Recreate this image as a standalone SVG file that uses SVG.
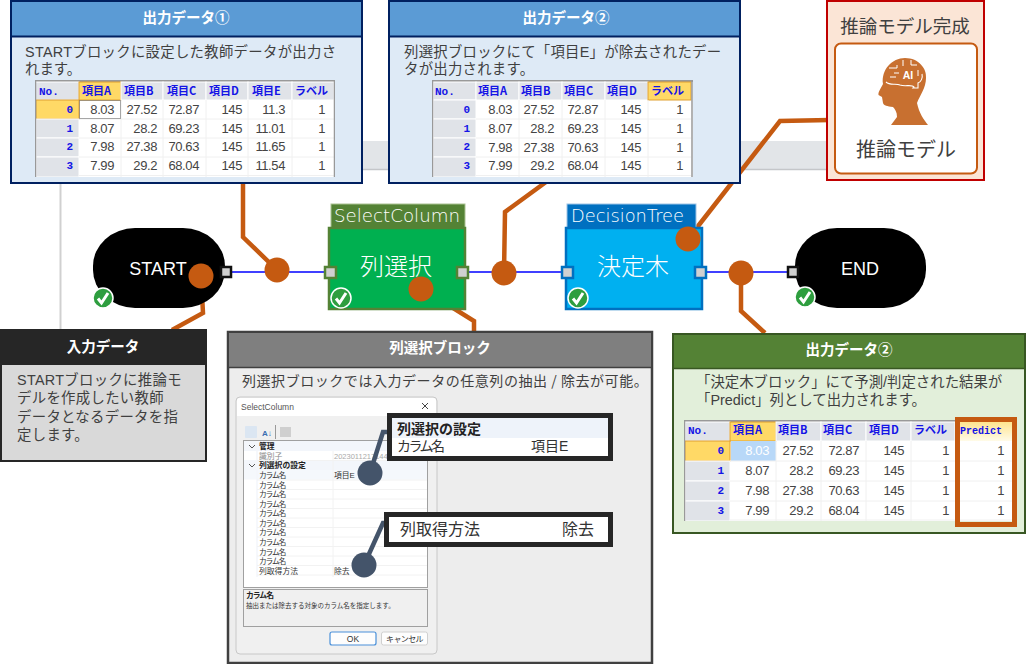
<svg xmlns="http://www.w3.org/2000/svg" width="1026" height="664" viewBox="0 0 1026 664">
<style>
text{font-family:"Noto Sans CJK JP","Liberation Sans",sans-serif}
.title{font-size:14.500px;font-weight:700;fill:#fff;text-anchor:middle}
.desc{font-size:14.400px;fill:#404040;font-family:"Liberation Sans","Noto Sans CJK JP",sans-serif}
.hb{font-size:11px;font-weight:700;fill:#1414e6}
.no{font-size:11px;font-weight:700;fill:#1414e6;font-family:"Liberation Mono",monospace}
.idx{font-size:11px;font-weight:700;fill:#1414e6;text-anchor:end;font-family:"Liberation Mono",monospace}
.n{font-size:13px;fill:#444;text-anchor:end;font-family:"Liberation Sans",sans-serif;letter-spacing:-.4px}
.hc{fill:#e0e3e8;stroke:#fff;stroke-width:1}
.sel{fill:#ffd966;stroke:#e0a030;stroke-width:1}
.rowl{stroke:#f0f0f0;stroke-width:1}
.conn{fill:none;stroke:#c55a11;stroke-width:4.500}
.dot{fill:#c55a11}
.slate{fill:none;stroke:#44546a;stroke-width:4.500}
.sdot{fill:#44546a}
.port{fill:#d0d0d0;stroke-width:2.500}
.nodeT{font-size:24px;fill:#fff;text-anchor:middle;font-weight:300}
.termT{font-size:18px;fill:#fff;text-anchor:middle;font-family:"Liberation Sans",sans-serif}
.hdrT{font-size:18px;fill:#fff;font-family:"DejaVu Sans","Liberation Sans",sans-serif;font-weight:200}
.pg{font-size:7.800px;fill:#333;font-family:"Liberation Sans","Noto Sans CJK JP",sans-serif}
.pgk{font-size:7.800px;fill:#333;letter-spacing:-1.200px;font-family:"Liberation Sans","Noto Sans CJK JP",sans-serif}
.pgb{font-size:7.800px;fill:#222;font-weight:700;font-family:"Liberation Sans","Noto Sans CJK JP",sans-serif}
</style>
<defs>
<g id="chk"><circle r="10" fill="#2e9e3f" stroke="#fff" stroke-width="1.500"/><path d="M-5 0.500 L-1.500 5 L5 -5" fill="none" stroke="#fff" stroke-width="3"/></g>
<clipPath id="c1"><rect x="35" y="80" width="300" height="97"/></clipPath>
<clipPath id="c2"><rect x="432" y="80" width="261" height="97"/></clipPath>
<clipPath id="c3"><rect x="684" y="420" width="335" height="101"/></clipPath>
<linearGradient id="pg" x1="0" y1="0" x2="0" y2="1"><stop offset="0" stop-color="#ffe38a"/><stop offset="1" stop-color="#fffbe8"/></linearGradient>
</defs>

<g id="background">
<rect x="340" y="141" width="500" height="28" fill="#e2e5e8"/>
<path d="M340 169.500H840" stroke="#c4c6c9" stroke-width="1.500" fill="none"/>
<path d="M60.500 180V332" stroke="#d0d0d0" stroke-width="2" fill="none"/>
</g>

<g id="connectors">
<path d="M232 272H790" stroke="#0000ff" stroke-width="1.500" fill="none"/>
<path class="conn" d="M201 276L203 313L172 330"/>
<path class="conn" d="M243 180V237L277 270"/>
<path class="conn" d="M421 288L474 321V333"/>
<path class="conn" d="M504 273L505 212L546 182"/>
<path class="conn" d="M688 239L780 121L830 120"/>
<path class="conn" d="M741 273V311L765 333"/>
</g>

<g id="node-start">
<rect x="93" y="228" width="132" height="80" rx="42" ry="38" fill="#000"/>
<text class="termT" x="158" y="275">START</text>
<rect class="port" x="221" y="267" width="10" height="10" stroke="#111"/>
<use href="#chk" x="103" y="298"/>
</g>

<g id="node-select">
<rect x="331" y="204" width="134" height="25" fill="#548235" stroke="#a9c191" stroke-width="1"/>
<text class="hdrT" x="334" y="222" textLength="126" lengthAdjust="spacingAndGlyphs">SelectColumn</text>
<rect x="329" y="228" width="136" height="81" fill="#00b050" stroke="#548235" stroke-width="2.500"/>
<text class="nodeT" x="396" y="275">列選択</text>
<rect class="port" x="325" y="267" width="11" height="11" stroke="#548235"/>
<rect class="port" x="457" y="267" width="11" height="11" stroke="#548235"/>
<use href="#chk" x="341" y="298"/>
</g>

<g id="node-decision">
<rect x="567" y="204" width="129" height="25" fill="#0070c0" stroke="#9dc3e6" stroke-width="1"/>
<text class="hdrT" x="571" y="222" textLength="113" lengthAdjust="spacingAndGlyphs">DecisionTree</text>
<rect x="566" y="228" width="136" height="81" fill="#00b0f0" stroke="#0070c0" stroke-width="2.500"/>
<text class="nodeT" x="633" y="275">決定木</text>
<rect class="port" x="562" y="267" width="11" height="11" stroke="#0070c0"/>
<rect class="port" x="695" y="267" width="11" height="11" stroke="#0070c0"/>
<use href="#chk" x="578" y="298"/>
</g>

<g id="node-end">
<rect x="795" y="228" width="131" height="80" rx="42" ry="38" fill="#000"/>
<text class="termT" x="860" y="275">END</text>
<rect class="port" x="788" y="267" width="10" height="10" stroke="#111"/>
<use href="#chk" x="805" y="297"/>
</g>

<g id="dots">
<circle class="dot" cx="201" cy="276" r="12.500"/>
<circle class="dot" cx="277" cy="270" r="12.500"/>
<circle class="dot" cx="421" cy="289" r="12.500"/>
<circle class="dot" cx="504" cy="273" r="12.500"/>
<circle class="dot" cx="688" cy="239" r="12.500"/>
<circle class="dot" cx="741" cy="273" r="12.500"/>
</g>

<g id="panel-output1">
<rect x="11" y="1" width="351" height="182" fill="#deeaf6" stroke="#002060" stroke-width="2"/>
<rect x="12" y="2" width="349" height="34" fill="#5b9bd5"/>
<path d="M11 36.500H362" stroke="#002060" stroke-width="2"/>
<text class="title" x="186" y="23">出力データ①</text>
<text class="desc" x="25" y="57" style="letter-spacing:.28px">STARTブロックに設定した教師データが出力さ</text>
<text class="desc" x="25" y="74">れます。</text>
<g clip-path="url(#c1)">
<rect x="35" y="80" width="300" height="97" fill="#fff"/>
<rect x="35" y="80" width="300" height="2" fill="#999"/>
<rect x="35" y="82" width="44" height="18" class="hc"/><rect x="79" y="82" width="42" height="18" class="sel"/><rect x="121" y="82" width="42" height="18" class="hc"/><rect x="163" y="82" width="43" height="18" class="hc"/><rect x="206" y="82" width="42" height="18" class="hc"/><rect x="248" y="82" width="44" height="18" class="hc"/><rect x="292" y="82" width="42" height="18" class="hc"/>
<rect x="36" y="100" width="43" height="19" class="sel"/><rect x="36" y="119" width="43" height="19" class="hc"/><rect x="36" y="138" width="43" height="19" class="hc"/><rect x="36" y="157" width="43" height="20" class="hc"/>
<path class="rowl" d="M79 119H334M79 138H334M79 157H334M79 175.500H334M121 100V177M163 100V177M206 100V177M248 100V177M292 100V177"/>
<rect x="79.500" y="100.500" width="41" height="18" fill="none" stroke="#555" stroke-width="1" stroke-dasharray="1 1"/>
<path d="M35.500 80V177M334.500 80V177" stroke="#999" stroke-width="1.500" fill="none"/>
</g>
<text class="no" x="39" y="95">No.</text><text class="hb" x="82" y="95">項目A</text><text class="hb" x="124" y="95">項目B</text><text class="hb" x="167" y="95">項目C</text><text class="hb" x="209" y="95">項目D</text><text class="hb" x="252" y="95">項目E</text><text class="hb" x="295" y="95">ラベル</text>
<text class="idx" x="73" y="113">0</text><text class="n" x="114" y="114">8.03</text><text class="n" x="157" y="114">27.52</text><text class="n" x="199" y="114">72.87</text><text class="n" x="242" y="114">145</text><text class="n" x="285" y="114">11.3</text><text class="n" x="325" y="114">1</text>
<text class="idx" x="73" y="132">1</text><text class="n" x="114" y="133">8.07</text><text class="n" x="157" y="133">28.2</text><text class="n" x="199" y="133">69.23</text><text class="n" x="242" y="133">145</text><text class="n" x="285" y="133">11.01</text><text class="n" x="325" y="133">1</text>
<text class="idx" x="73" y="150">2</text><text class="n" x="114" y="151">7.98</text><text class="n" x="157" y="151">27.38</text><text class="n" x="199" y="151">70.63</text><text class="n" x="242" y="151">145</text><text class="n" x="285" y="151">11.65</text><text class="n" x="325" y="151">1</text>
<text class="idx" x="73" y="169">3</text><text class="n" x="114" y="170">7.99</text><text class="n" x="157" y="170">29.2</text><text class="n" x="199" y="170">68.04</text><text class="n" x="242" y="170">145</text><text class="n" x="285" y="170">11.54</text><text class="n" x="325" y="170">1</text>
</g>

<g id="panel-output2">
<rect x="389" y="1" width="351" height="182" fill="#deeaf6" stroke="#002060" stroke-width="2"/>
<rect x="390" y="2" width="349" height="34" fill="#5b9bd5"/>
<path d="M389 36.500H740" stroke="#002060" stroke-width="2"/>
<text class="title" x="566" y="23">出力データ②</text>
<text class="desc" x="404" y="57" style="letter-spacing:.25px">列選択ブロックにて「項目E」が除去されたデー</text>
<text class="desc" x="404" y="74" style="letter-spacing:.25px">タが出力されます。</text>
<g clip-path="url(#c2)">
<rect x="432" y="80" width="261" height="97" fill="#fff"/>
<rect x="432" y="80" width="261" height="2" fill="#999"/>
<rect x="433" y="82" width="43" height="18" class="hc"/><rect x="476" y="82" width="43" height="18" class="hc"/><rect x="519" y="82" width="43" height="18" class="hc"/><rect x="562" y="82" width="43" height="18" class="hc"/><rect x="605" y="82" width="43" height="18" class="hc"/><rect x="648" y="82" width="43" height="18" class="sel"/>
<rect x="433" y="100" width="43" height="19" class="hc"/><rect x="433" y="119" width="43" height="19" class="hc"/><rect x="433" y="138" width="43" height="19" class="hc"/><rect x="433" y="157" width="43" height="20" class="hc"/>
<path class="rowl" d="M476 119H691M476 138H691M476 157H691M476 175.500H691M519 100V177M562 100V177M605 100V177M648 100V177"/>
<path d="M432.500 80V177M692 80V177" stroke="#999" stroke-width="1.500" fill="none"/>
</g>
<text class="no" x="435" y="95">No.</text><text class="hb" x="478" y="95">項目A</text><text class="hb" x="521" y="95">項目B</text><text class="hb" x="564" y="95">項目C</text><text class="hb" x="607" y="95">項目D</text><text class="hb" x="651" y="95">ラベル</text>
<text class="idx" x="470" y="113">0</text><text class="n" x="512" y="114">8.03</text><text class="n" x="554" y="114">27.52</text><text class="n" x="598" y="114">72.87</text><text class="n" x="641" y="114">145</text><text class="n" x="683" y="114">1</text>
<text class="idx" x="470" y="132">1</text><text class="n" x="512" y="133">8.07</text><text class="n" x="554" y="133">28.2</text><text class="n" x="598" y="133">69.23</text><text class="n" x="641" y="133">145</text><text class="n" x="683" y="133">1</text>
<text class="idx" x="470" y="150">2</text><text class="n" x="512" y="152">7.98</text><text class="n" x="554" y="152">27.38</text><text class="n" x="598" y="152">70.63</text><text class="n" x="641" y="152">145</text><text class="n" x="683" y="152">1</text>
<text class="idx" x="470" y="169">3</text><text class="n" x="512" y="170">7.99</text><text class="n" x="554" y="170">29.2</text><text class="n" x="598" y="170">68.04</text><text class="n" x="641" y="170">145</text><text class="n" x="683" y="170">1</text>
</g>

<g id="panel-model">
<rect x="827" y="1" width="157" height="179" fill="#fbe5d6" stroke="#c00000" stroke-width="2"/>
<text x="905" y="33" font-size="18.500" fill="#404040" text-anchor="middle">推論モデル完成</text>
<rect x="835" y="43.500" width="142" height="130" rx="6" fill="#fff" stroke="#c55a11" stroke-width="2"/>
<path d="M891 125L897 117C897 112 895 109 893 107C887 106 884 106 883 103L882 97L878.500 95C878 92 881 88 883 84C881 70 892 58 905 58C919 58 927 69 926 78C926 88 920 95 917 103C919 113 924 120 928 125Z" fill="#c87030"/>
<path d="M886 82C890 86 896 83 900 85C905 87 912 84 914 87L913 88H918V83C921 82 923 78 922 74" fill="none" stroke="#fff" stroke-width="1.100"/>
<path d="M889 68H897V65M903 60V66M911 60V65H917M894 73H899M890 77H896M918 70V76" fill="none" stroke="#fff" stroke-width="1"/>
<text x="908" y="79" font-size="10.500" font-weight="700" fill="#fff" text-anchor="middle" style="font-family:'Liberation Sans',sans-serif">AI</text>
<text x="906" y="157" font-size="20" fill="#404040" text-anchor="middle">推論モデル</text>
</g>

<g id="panel-input">
<rect x="1" y="330" width="205" height="131" fill="#d9d9d9" stroke="#262626" stroke-width="2"/>
<rect x="0" y="329" width="207" height="36" fill="#262626"/>
<text class="title" x="103" y="352">入力データ</text>
<text class="desc" x="17" y="385" style="letter-spacing:.3px">STARTブロックに推論モ</text>
<text class="desc" x="17" y="403" style="letter-spacing:.3px">デルを作成したい教師</text>
<text class="desc" x="17" y="422" style="letter-spacing:.3px">データとなるデータを指</text>
<text class="desc" x="17" y="440" style="letter-spacing:.3px">定します。</text>
</g>

<g id="panel-select">
<rect x="228" y="332" width="424" height="331" fill="#ededed" stroke="#404040" stroke-width="2.500"/>
<rect x="229" y="333" width="422" height="34" fill="#7f7f7f"/>
<path d="M228 367.500H652" stroke="#404040" stroke-width="1.500"/>
<text class="title" x="440" y="353">列選択ブロック</text>
<text x="242" y="386" font-size="14" fill="#404040" style="letter-spacing:.55px">列選択ブロックでは入力データの任意列の抽出 / 除去が可能。</text>

<rect x="236" y="397" width="201" height="257" rx="4" fill="#f0f0f0" stroke="#c8c8c8" stroke-width="1"/>
<path d="M237 416V401Q237 398 240 398H433Q436 398 436 401V416Z" fill="#fff"/>
<text x="241" y="410" font-size="8.500" fill="#555" style="font-family:'Liberation Sans',sans-serif">SelectColumn</text>
<path d="M422 403L428 409M428 403L422 409" stroke="#444" stroke-width="1" fill="none"/>
<rect x="245" y="426" width="12" height="12" rx="1" fill="#dbe6f2"/>
<text x="262" y="436" font-size="8" font-weight="700" fill="#3a6db0" style="font-family:'Liberation Sans',sans-serif">A↓</text>
<path d="M275.500 425V439" stroke="#999" stroke-width="1"/>
<rect x="280" y="427" width="11" height="10" fill="#cfcfcf"/>
<rect x="243.500" y="440.500" width="184" height="147" fill="#fff" stroke="#a0a0a0" stroke-width="1"/>
<rect x="244" y="441" width="183" height="10" fill="#f3f6fb"/>
<rect x="244" y="460" width="183" height="10" fill="#f3f6fb"/>
<rect x="244" y="470" width="183" height="9.500" fill="#f5f8fc"/>
<path d="M257 441V577" stroke="#f3f6fb" stroke-width="1.500"/>
<path d="M333 451V577M257 460.500H427M257 480H427M257 489.500H427M257 499H427M257 508.500H427M257 518H427M257 527.500H427M257 537H427M257 546.500H427M257 556H427M257 565.500H427M257 575H427" stroke="#f2f2f2" stroke-width="1" fill="none"/>
<path d="M249 445L252 448L255 445M249 464L252 467L255 464" fill="none" stroke="#555" stroke-width="1"/>
<text class="pgb" x="259" y="449">管理</text>
<text class="pg" x="259" y="459" style="fill:#888">識別子</text>
<text x="334" y="459" font-size="7.500" fill="#aaa" style="font-family:'Liberation Sans',sans-serif">20230112171440</text>
<text class="pgb" x="259" y="468">列選択の設定</text>
<text class="pgk" x="259" y="478">カラム名</text><text class="pg" x="334" y="478">項目E</text>
<text class="pgk" x="259" y="488">カラム名</text>
<text class="pgk" x="259" y="497">カラム名</text>
<text class="pgk" x="259" y="507">カラム名</text>
<text class="pgk" x="259" y="516">カラム名</text>
<text class="pgk" x="259" y="526">カラム名</text>
<text class="pgk" x="259" y="535">カラム名</text>
<text class="pgk" x="259" y="545">カラム名</text>
<text class="pgk" x="259" y="555">カラム名</text>
<text class="pgk" x="259" y="564">カラム名</text>
<text class="pg" x="259" y="574">列取得方法</text><text class="pg" x="334" y="574">除去</text>
<rect x="243.500" y="589.500" width="184" height="37" fill="#f0f0f0" stroke="#a0a0a0" stroke-width="1"/>
<text class="pgb" x="246" y="598" style="letter-spacing:-1px">カラム名</text>
<text x="246" y="608" font-size="6.500" fill="#333" style="font-family:'Liberation Sans','Noto Sans CJK JP',sans-serif">抽出または除去する対象のカラム名を指定します。</text>
<rect x="330" y="632" width="46" height="13" rx="2" fill="#fdfdfd" stroke="#4a90d9" stroke-width="1.200"/>
<text x="353" y="641.500" font-size="8.500" fill="#333" text-anchor="middle" style="font-family:'Liberation Sans',sans-serif">OK</text>
<rect x="381.500" y="632" width="46" height="13" rx="2" fill="#fdfdfd" stroke="#d0d0d0" stroke-width="1"/>
<text x="404.500" y="641.500" font-size="8" fill="#333" text-anchor="middle" style="letter-spacing:-.6px">キャンセル</text>

<path class="slate" d="M370 473L383 432H392"/>
<path class="slate" d="M364 565L383 523H392"/>
<circle class="sdot" cx="370" cy="473" r="12.500"/>
<circle class="sdot" cx="364" cy="565" r="12.500"/>
<rect x="389.500" y="415.500" width="221" height="43" fill="#fff" stroke="#262626" stroke-width="5"/>
<rect x="392" y="418" width="216" height="20" fill="#eef3fa"/>
<text x="397" y="434" font-size="14" font-weight="700" fill="#222" style="font-family:'Liberation Sans','Noto Sans CJK JP',sans-serif">列選択の設定</text>
<text x="397" y="451" font-size="14" fill="#333" style="letter-spacing:-2.500px;font-family:'Liberation Sans','Noto Sans CJK JP',sans-serif">カラム名</text>
<text x="531" y="451" font-size="14" fill="#333" style="font-family:'Liberation Sans','Noto Sans CJK JP',sans-serif">項目E</text>
<rect x="386.500" y="514.500" width="224" height="30" fill="#fff" stroke="#262626" stroke-width="5"/>
<text x="400" y="535" font-size="16" fill="#333">列取得方法</text>
<text x="562" y="535" font-size="16" fill="#333">除去</text>
</g>

<g id="panel-result">
<rect x="673" y="334" width="352" height="199" fill="#e2efda" stroke="#385723" stroke-width="2"/>
<rect x="674" y="335" width="350" height="33" fill="#548235"/>
<path d="M673 368.500H1025" stroke="#385723" stroke-width="1.500"/>
<text class="title" x="849" y="355">出力データ②</text>
<text class="desc" x="696" y="387">「決定木ブロック」にて予測/判定された結果が</text>
<text class="desc" x="696" y="405">「Predict」列として出力されます。</text>
<g clip-path="url(#c3)">
<rect x="684" y="420" width="331" height="101" fill="#fff"/>
<rect x="684" y="420" width="271" height="2" fill="#999"/>
<rect x="685" y="422" width="45" height="19" class="hc"/><rect x="730" y="422" width="46" height="19" class="sel"/><rect x="776" y="422" width="45" height="19" class="hc"/><rect x="821" y="422" width="45" height="19" class="hc"/><rect x="866" y="422" width="45" height="19" class="hc"/><rect x="911" y="422" width="44" height="19" class="hc"/>
<rect x="955" y="421" width="60" height="20" fill="url(#pg)"/>
<rect x="685" y="441" width="45" height="20" class="sel"/><rect x="685" y="461" width="45" height="20" class="hc"/><rect x="685" y="481" width="45" height="20" class="hc"/><rect x="685" y="501" width="45" height="20" class="hc"/>
<rect x="731" y="441" width="45" height="20" fill="#b8d8f8"/>
<path class="rowl" d="M730 461H1015M730 481H1015M730 501H1015M730 520H1015M776 441V521M821 441V521M866 441V521M911 441V521"/>
<path d="M684.500 420V521" stroke="#999" stroke-width="1.500" fill="none"/>
</g>
<text class="no" x="688" y="434">No.</text><text class="hb" x="733" y="434">項目A</text><text class="hb" x="778" y="434">項目B</text><text class="hb" x="823" y="434">項目C</text><text class="hb" x="869" y="434">項目D</text><text class="hb" x="914" y="434">ラベル</text><text class="no" x="960" y="434" style="font-size:10px">Predict</text>
<text class="idx" x="724" y="454">0</text><text class="n" x="769" y="455" style="fill:#fff">8.03</text><text class="n" x="813" y="455">27.52</text><text class="n" x="859" y="455">72.87</text><text class="n" x="904" y="455">145</text><text class="n" x="949" y="455">1</text><text class="n" x="1004" y="455">1</text>
<text class="idx" x="724" y="474">1</text><text class="n" x="769" y="475">8.07</text><text class="n" x="813" y="475">28.2</text><text class="n" x="859" y="475">69.23</text><text class="n" x="904" y="475">145</text><text class="n" x="949" y="475">1</text><text class="n" x="1004" y="475">1</text>
<text class="idx" x="724" y="494">2</text><text class="n" x="769" y="495">7.98</text><text class="n" x="813" y="495">27.38</text><text class="n" x="859" y="495">70.63</text><text class="n" x="904" y="495">145</text><text class="n" x="949" y="495">1</text><text class="n" x="1004" y="495">1</text>
<text class="idx" x="724" y="514">3</text><text class="n" x="769" y="515">7.99</text><text class="n" x="813" y="515">29.2</text><text class="n" x="859" y="515">68.04</text><text class="n" x="904" y="515">145</text><text class="n" x="949" y="515">1</text><text class="n" x="1004" y="515">1</text>
<rect x="957.500" y="419.500" width="57" height="105" fill="none" stroke="#c55a11" stroke-width="5"/>
</g>
</svg>
